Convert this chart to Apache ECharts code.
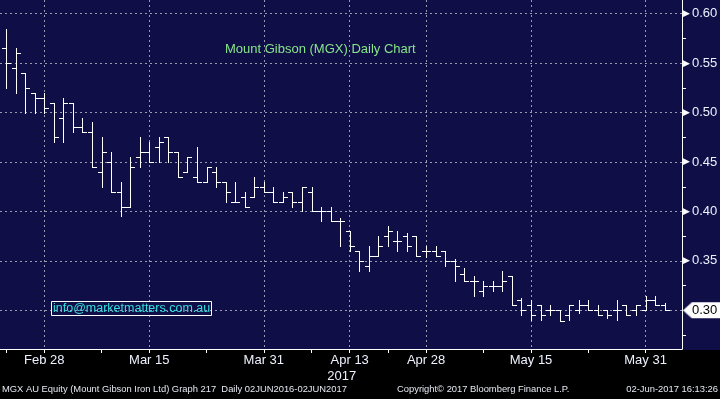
<!DOCTYPE html>
<html><head><meta charset="utf-8">
<script src="https://cdn.jsdelivr.net/npm/echarts@6/dist/echarts.min.js"></script>
<style>html,body{margin:0;padding:0;background:#100e46;} #c{width:720px;height:399px;}</style>
</head><body><div id="c"></div>
<script>
// ---- data ----
const dates = ['2017-02-22','2017-02-23','2017-02-24','2017-02-27','2017-02-28','2017-03-01','2017-03-02','2017-03-03','2017-03-06','2017-03-07','2017-03-08','2017-03-09','2017-03-10','2017-03-13','2017-03-14','2017-03-15','2017-03-16','2017-03-17','2017-03-20','2017-03-21','2017-03-22','2017-03-23','2017-03-24','2017-03-27','2017-03-28','2017-03-29','2017-03-30','2017-03-31','2017-04-03','2017-04-04','2017-04-05','2017-04-06','2017-04-07','2017-04-10','2017-04-11','2017-04-12','2017-04-13','2017-04-18','2017-04-19','2017-04-20','2017-04-21','2017-04-24','2017-04-26','2017-04-27','2017-04-28','2017-05-01','2017-05-02','2017-05-03','2017-05-04','2017-05-05','2017-05-08','2017-05-09','2017-05-10','2017-05-11','2017-05-12','2017-05-15','2017-05-16','2017-05-17','2017-05-18','2017-05-19','2017-05-22','2017-05-23','2017-05-24','2017-05-25','2017-05-26','2017-05-29','2017-05-30','2017-05-31','2017-06-01','2017-06-02'];
const open = [0.565,0.545,0.540,0.520,0.515,0.510,0.495,0.510,0.485,0.480,
  0.440,0.450,0.420,0.405,0.455,0.460,0.465,0.475,0.460,0.440,
  0.435,0.430,0.440,0.430,0.410,0.415,0.415,0.425,0.420,0.410,
  0.420,0.410,0.420,0.400,0.400,0.390,0.380,0.360,0.345,0.355,
  0.375,0.370,0.375,0.375,0.360,0.360,0.360,0.350,0.337,0.330,
  0.320,0.325,0.325,0.335,0.310,0.305,0.305,0.300,0.300,0.295,
  0.300,0.305,0.300,0.300,0.300,0.305,0.300,0.300,0.310,0.305];
const high = [0.585,0.565,0.540,0.520,0.520,0.510,0.515,0.510,0.495,0.490,
  0.475,0.460,0.430,0.455,0.475,0.470,0.475,0.475,0.460,0.455,
  0.465,0.445,0.445,0.430,0.430,0.420,0.435,0.430,0.425,0.420,
  0.420,0.425,0.425,0.405,0.405,0.393,0.380,0.360,0.365,0.375,
  0.385,0.380,0.378,0.375,0.365,0.365,0.360,0.352,0.343,0.335,
  0.330,0.330,0.340,0.335,0.312,0.310,0.305,0.305,0.300,0.305,
  0.310,0.310,0.305,0.300,0.310,0.305,0.305,0.315,0.315,0.307];
const low = [0.525,0.520,0.500,0.500,0.500,0.470,0.470,0.480,0.480,0.445,
  0.425,0.420,0.395,0.405,0.445,0.450,0.450,0.450,0.435,0.440,
  0.430,0.430,0.425,0.410,0.410,0.405,0.415,0.420,0.410,0.410,
  0.405,0.400,0.400,0.390,0.390,0.365,0.360,0.340,0.340,0.355,
  0.365,0.360,0.360,0.355,0.354,0.355,0.345,0.330,0.330,0.315,
  0.315,0.320,0.320,0.305,0.295,0.290,0.290,0.295,0.289,0.290,
  0.297,0.300,0.295,0.2925,0.290,0.295,0.295,0.300,0.305,0.300];
const close = [0.550,0.560,0.525,0.515,0.505,0.475,0.510,0.485,0.480,0.445,
  0.460,0.420,0.405,0.445,0.460,0.450,0.470,0.460,0.435,0.455,
  0.430,0.445,0.430,0.420,0.410,0.405,0.425,0.420,0.410,0.415,
  0.410,0.425,0.400,0.400,0.390,0.390,0.365,0.350,0.355,0.365,
  0.380,0.370,0.365,0.355,0.360,0.355,0.350,0.345,0.330,0.330,
  0.325,0.325,0.330,0.305,0.300,0.295,0.295,0.300,0.289,0.305,
  0.305,0.300,0.295,0.295,0.300,0.295,0.305,0.310,0.305,0.300];
const xTickDates = ['2017-02-22','2017-02-28','2017-03-08','2017-03-15','2017-03-23','2017-03-31','2017-04-07','2017-04-13','2017-04-21','2017-04-28','2017-05-08','2017-05-15','2017-05-23','2017-05-31'];
const xLabelDates = ['2017-02-28','2017-03-15','2017-03-31','2017-04-13','2017-04-28','2017-05-15','2017-05-31'];
const yearLabelDate = '2017-04-13';
const months = ['Jan','Feb','Mar','Apr','May','Jun','Jul','Aug','Sep','Oct','Nov','Dec'];
const yLabelValues = [0.30,0.35,0.40,0.45,0.50,0.55,0.60];
const yMinorValues = [0.275,0.325,0.375,0.425,0.475,0.525,0.575];
const chartTitle = 'Mount Gibson (MGX) Daily Chart';
const watermark = 'info@marketmatters.com.au';
const footerLeft = 'MGX AU Equity (Mount Gibson Iron Ltd) Graph 217  Daily 02JUN2016-02JUN2017';
const footerMid = 'Copyright\u00A9 2017 Bloomberg Finance L.P.';
const footerRight = '02-Jun-2017 16:13:26';

// ---- build ----
const FONT = '"Liberation Sans", Arial, sans-serif';
const ohlc = dates.map((d, i) => [i, open[i], high[i], low[i], close[i]]);
const idx = d => dates.indexOf(d);
const tickIdx = xTickDates.map(idx);
const labelIdx = xLabelDates.map(idx);
const lastClose = close[close.length - 1];

function makeTag(w, h) {
  const c = document.createElement('canvas');
  c.width = w; c.height = h;
  const g = c.getContext('2d');
  g.fillStyle = '#ffffff';
  g.beginPath();
  g.moveTo(0, h / 2); g.lineTo(7, 0); g.lineTo(w, 0); g.lineTo(w, h); g.lineTo(7, h);
  g.closePath(); g.fill();
  return c;
}

function renderItem(params, api) {
  const i = api.value(0);
  const pO = api.coord([i, api.value(1)]);
  const pH = api.coord([i, api.value(2)]);
  const pL = api.coord([i, api.value(3)]);
  const pC = api.coord([i, api.value(4)]);
  const w = Math.round(api.size([1, 0])[0] * 0.47);
  const xs = Math.round(pO[0]) + 0.5;
  const st = { stroke: '#ffffff', lineWidth: 1 };
  return {
    type: 'group',
    children: [
      { type: 'line', shape: { x1: xs, y1: Math.round(pH[1]), x2: xs, y2: Math.round(pL[1]) + 1 }, style: st },
      { type: 'line', shape: { x1: xs - w - 0.5, y1: Math.round(pO[1]) + 0.5, x2: xs, y2: Math.round(pO[1]) + 0.5 }, style: st },
      { type: 'line', shape: { x1: xs, y1: Math.round(pC[1]) + 0.5, x2: xs + w + 0.5, y2: Math.round(pC[1]) + 0.5 }, style: st }
    ]
  };
}

const X_MIN = -0.642, X_MAX = 70.82;
const Y_MIN = 0.2609, Y_MAX = 0.6139;
const gridLine = { show: true, lineStyle: { color: '#9a9aae', width: 1, type: [2, 3] } };
const labelColor = '#eef2ff';

const chart = echarts.init(document.getElementById('c'), null, { renderer: 'canvas' });
chart.setOption({
  backgroundColor: '#100e46',
  animation: false,
  textStyle: { fontFamily: FONT },
  title: [
    { text: chartTitle, left: 225, top: 43, padding: 0,
      textStyle: { color: '#86e58a', fontSize: 13, fontWeight: 'normal', fontFamily: FONT } },
    { text: watermark, left: 51, top: 301, padding: [1, 2, 1, 2], borderColor: '#ffffff', borderWidth: 1,
      textStyle: { color: '#33dede', fontSize: 12.5, fontWeight: 'normal', fontFamily: FONT } }
  ],
  grid: { left: 0, right: 38, top: 0, bottom: 50, containLabel: false, outerBoundsMode: 'none' },
  graphic: [
    { type: 'rect', left: 0, top: 350, shape: { width: 720, height: 49 }, style: { fill: '#000000' }, z: -10, silent: true },
    { type: 'text', left: 2, top: 385, style: { text: footerLeft, fill: '#e6e8f2', font: '9.4px ' + FONT } },
    { type: 'text', left: 397, top: 385, style: { text: footerMid, fill: '#e6e8f2', font: '9.4px ' + FONT } },
    { type: 'text', right: 2, top: 385, style: { text: footerRight, fill: '#e6e8f2', font: '9.4px ' + FONT } }
  ],
  xAxis: [
    { type: 'value', min: X_MIN, max: X_MAX, position: 'bottom',
      axisLine: { show: true, onZero: false, lineStyle: { color: '#ffffff', width: 1 } },
      axisTick: { show: true, customValues: tickIdx, length: 4, lineStyle: { color: '#ffffff' } },
      axisLabel: { customValues: labelIdx, margin: 3,
        formatter: v => {
          const d = dates[Math.round(v)];
          const p = d.split('-');
          const s = months[+p[1] - 1] + ' ' + (+p[2]);
          return d === yearLabelDate ? '{a|' + s + '}\n{b|' + p[0] + '}' : '{a|' + s + '}';
        },
        rich: {
          a: { fontSize: 13, color: labelColor, lineHeight: 16, fontFamily: FONT },
          b: { fontSize: 13, color: labelColor, lineHeight: 16, fontFamily: FONT, padding: [0, 16, 0, 0] }
        } },
      splitLine: { show: false } },
    { type: 'value', min: X_MIN, max: X_MAX, position: 'bottom',
      axisLine: { show: false }, axisTick: { show: false, customValues: labelIdx },
      axisLabel: { show: false }, splitLine: gridLine }
  ],
  yAxis: [
    { type: 'value', min: Y_MIN, max: Y_MAX, position: 'right',
      axisLine: { show: true, onZero: false, lineStyle: { color: '#ffffff', width: 1 } },
      axisTick: { show: false, customValues: yLabelValues },
      splitLine: gridLine,
      axisLabel: { customValues: yLabelValues, margin: 1,
        formatter: v => Math.abs(v - lastClose) < 1e-9
          ? '{tag|' + v.toFixed(2) + '}'
          : '{t|\u25B6}{v|' + v.toFixed(2) + '}',
        rich: {
          t: { fontSize: 9, color: '#ffffff', fontFamily: 'DejaVu Sans', padding: [0, 2, 0, 0] },
          v: { fontSize: 13, color: labelColor, fontFamily: FONT },
          tag: { fontSize: 13, color: '#000000', fontFamily: FONT, padding: [2, 4, 1, 9],
                 backgroundColor: { image: makeTag(40, 17) } }
        } } },
    { type: 'value', min: Y_MIN, max: Y_MAX, position: 'right',
      axisLine: { show: false, onZero: false },
      axisTick: { show: true, customValues: yMinorValues, length: 4, lineStyle: { color: '#ffffff' } },
      axisLabel: { show: false }, splitLine: { show: false } }
  ],
  series: [{
    type: 'custom', name: 'MGX', renderItem: renderItem, data: ohlc,
    encode: { x: 0, y: [1, 2, 3, 4] }, xAxisIndex: 0, yAxisIndex: 0, clip: false
  }]
});
</script></body></html>
